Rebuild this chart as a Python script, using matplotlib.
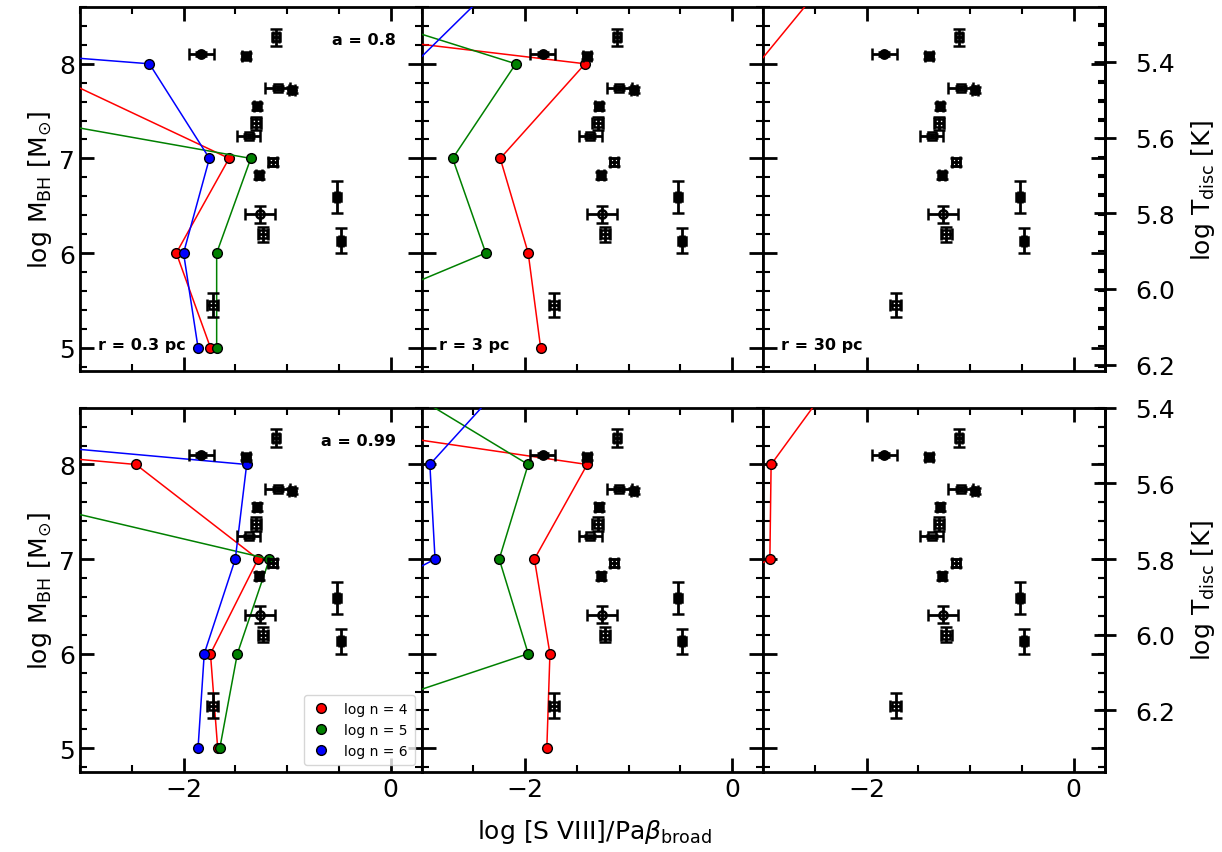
import numpy as np
import matplotlib.pyplot as plt
from matplotlib.ticker import MultipleLocator, FixedLocator, FormatStrFormatter
from matplotlib.lines import Line2D

# observed objects (same in every panel)
obs_x = [-1.83, -1.40, -1.11, -1.09, -0.95, -1.29, -1.30, -1.37, -1.14, -1.27, -1.26, -1.23, -0.52, -0.48, -1.72]
obs_y = [8.10, 8.08, 8.28, 7.74, 7.72, 7.55, 7.37, 7.24, 6.96, 6.82, 6.41, 6.20, 6.59, 6.13, 5.45]
obs_xerr = [0.12, 0.04, 0.03, 0.12, 0.03, 0.03, 0.05, 0.11, 0.04, 0.03, 0.145, 0.05, 0.02, 0.02, 0.05]
obs_yerr = [0.02, 0.03, 0.09, 0.02, 0.03, 0.04, 0.07, 0.02, 0.04, 0.04, 0.09, 0.08, 0.17, 0.13, 0.13]
obs_marker = ["o", "s", "s", "s", "o", "s", "s", "s", "s", "s", "o", "s", "s", "s", "s"]
obs_filled = [1, 1, 0, 0, 1, 1, 0, 0, 0, 1, 0, 0, 1, 1, 0]

# model grid: log M_BH
logM = [5, 6, 7, 8, 9]
spins = [0.8, 0.99]
radii = ["0.3", "3", "30"]
dens = [4, 5, 6]
dens_colors = ["red", "green", "blue"]

# log [S VIII]/Pa beta for each spin, radius, density (values at logM = 5..9)
ratio_a08_r03 = [[-1.74, -2.07, -1.56, -3.50, -6.0],
                 [-1.68, -1.68, -1.35, -6.5, -9.0],
                 [-1.86, -2.00, -1.75, -2.33, -14.0]]
ratio_a08_r3 = [[-1.85, -1.97, -2.24, -1.42, -9.1],
                [-4.57, -2.38, -2.70, -2.09, -5.0],
                [-5.0, -4.5, -4.0, -3.07, -2.14]]
ratio_a08_r30 = [[-8.0, -6.5, -5.0, -3.05, -2.30],
                 [-9.0, -8.0, -7.0, -6.0, -5.0],
                 [-10.0, -9.0, -8.0, -7.0, -6.0]]
ratio_a099_r03 = [[-1.67, -1.74, -1.28, -2.46, -12.6],
                  [-1.65, -1.48, -1.17, -5.06, -9.0],
                  [-1.86, -1.80, -1.50, -1.39, -11.5]]
ratio_a099_r3 = [[-1.79, -1.76, -1.91, -1.40, -7.65],
                 [-4.71, -1.97, -2.25, -1.97, -3.48],
                 [-5.5, -4.62, -2.87, -2.92, -2.09]]
ratio_a099_r30 = [[-6.0, -4.75, -2.935, -2.923, -2.256],
                  [-9.0, -8.0, -7.0, -6.0, -5.0],
                  [-10.0, -9.0, -8.0, -7.0, -6.0]]
ratios = [[ratio_a08_r03, ratio_a08_r3, ratio_a08_r30],
          [ratio_a099_r03, ratio_a099_r3, ratio_a099_r30]]

# log T_disc = c - 0.25 log M_BH
tdisc_const = [7.405, 7.55]

plt.rcParams["font.size"] = 18

fig, axes = plt.subplots(2, 3, figsize=(12.22, 8.53), dpi=100, sharex=True, sharey=True)
fig.subplots_adjust(left=0.0655, right=0.904, top=0.9906, bottom=0.0938, wspace=0, hspace=0.10)

for i in range(2):
    for j in range(3):
        ax = axes[i, j]
        for k in range(3):
            ax.plot(ratios[i][j][k], logM, "-o", color=dens_colors[k], lw=1.1,
                    ms=7, mfc=dens_colors[k], mec="k", mew=1.0, zorder=3)
        for xo, yo, xe, ye, mk, fl in zip(obs_x, obs_y, obs_xerr, obs_yerr, obs_marker, obs_filled):
            ax.errorbar(xo, yo, xerr=xe, yerr=ye, fmt=mk, color="k", ms=6,
                        mfc="k" if fl else "none", mec="k", mew=1.8,
                        elinewidth=2, capsize=4, capthick=2, zorder=4)
        ax.set_xlim(-3.0, 0.3)
        ax.set_ylim(4.75, 8.6)
        ax.xaxis.set_major_locator(MultipleLocator(2))
        ax.xaxis.set_minor_locator(MultipleLocator(0.5))
        ax.yaxis.set_major_locator(MultipleLocator(1))
        ax.yaxis.set_minor_locator(MultipleLocator(0.2))
        ax.tick_params(which="both", direction="in", top=True, right=True, labelsize=18)
        ax.tick_params(which="major", length=10, width=2)
        ax.tick_params(which="minor", length=5, width=1.5)
        for sp in ax.spines.values():
            sp.set_linewidth(2)
        if j == 0:
            ax.set_ylabel(r"log M$_{\rm BH}$ [M$_{\odot}$]", fontsize=18)
        if i == 0:
            ax.text(0.052, 0.074, "r = " + radii[j] + " pc", transform=ax.transAxes,
                    fontsize=11.5, fontweight="bold", va="center", ha="left")
        if j == 0:
            ax.text(0.925, 0.91, "a = " + str(spins[i]), transform=ax.transAxes,
                    fontsize=11.5, fontweight="bold", va="center", ha="right")
        if j == 2:
            c = tdisc_const[i]
            sec = ax.secondary_yaxis("right", functions=(lambda m, c=c: c - 0.25 * m,
                                                          lambda t, c=c: (c - t) / 0.25))
            sec.yaxis.set_major_locator(FixedLocator([5.4, 5.6, 5.8, 6.0, 6.2]))
            sec.yaxis.set_major_formatter(FormatStrFormatter("%.1f"))
            sec.yaxis.set_minor_locator(MultipleLocator(0.05))
            sec.tick_params(which="major", direction="inout", length=16, width=2,
                            labelsize=18, pad=14)
            sec.tick_params(which="minor", direction="in", length=5, width=1.5)
            sec.spines["right"].set_linewidth(2)
            sec.set_ylabel(r"log T$_{\rm disc}$ [K]", fontsize=18, labelpad=10)

handles = [Line2D([], [], ls="none", marker="o", ms=7, mfc=col, mec="k", mew=1.0)
           for col in dens_colors]
axes[1, 0].legend(handles, ["log n = %d" % n for n in dens], loc="lower right",
                  fontsize=10, handletextpad=0.9, handlelength=1.5, borderpad=0.5)

fig.text(0.486, 0.025, r"log [S VIII]/Pa$\beta_{\rm broad}$", ha="center", va="center", fontsize=18)

fig.savefig("out.png", dpi=100)
